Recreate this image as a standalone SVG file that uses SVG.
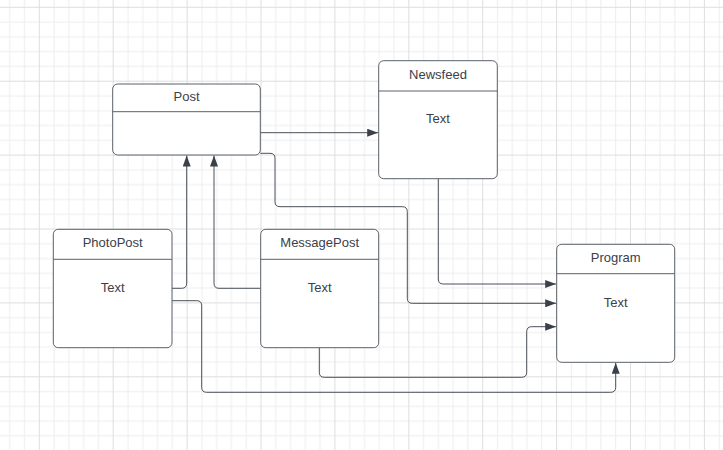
<svg xmlns="http://www.w3.org/2000/svg" width="723" height="450" viewBox="0 0 723 450">
<defs>
<pattern id="grid" patternUnits="userSpaceOnUse" x="38.8" y="6.8" width="73.9" height="73.9">
<rect x="14.78" y="0" width="1" height="73.9" fill="#ededed"/>
<rect x="29.56" y="0" width="1" height="73.9" fill="#ededed"/>
<rect x="44.34" y="0" width="1" height="73.9" fill="#ededed"/>
<rect x="59.12" y="0" width="1" height="73.9" fill="#ededed"/>
<rect x="0" y="14.78" width="73.9" height="1" fill="#ededed"/>
<rect x="0" y="29.56" width="73.9" height="1" fill="#ededed"/>
<rect x="0" y="44.34" width="73.9" height="1" fill="#ededed"/>
<rect x="0" y="59.12" width="73.9" height="1" fill="#ededed"/>
<rect x="0" y="0" width="1" height="73.9" fill="#dedede"/>
<rect x="0" y="0" width="73.9" height="1" fill="#dedede"/>
</pattern>
<marker id="arr" viewBox="0 0 11 8" refX="11" refY="4" markerWidth="11" markerHeight="8" markerUnits="userSpaceOnUse" orient="auto">
<path d="M0,0 L11,4 L0,8 Z" fill="#3a414a"/>
</marker>
</defs>
<style>
.box{fill:#ffffff;stroke:#5a6068;stroke-width:1}
.div{fill:none;stroke:#5a6068;stroke-width:1}
.t{font-family:"Liberation Sans",Arial,sans-serif;font-size:13px;fill:#3a414a;text-anchor:middle}
.c{fill:none;stroke:#4a5058;stroke-width:1;marker-end:url(#arr)}
</style>
<rect x="0" y="0" width="723" height="450" fill="#ffffff"/>
<rect x="0" y="0" width="723" height="450" fill="url(#grid)"/>

<g id="connectors">
<path class="c" d="M260.3,132.7 H378.2"/>
<path class="c" d="M260.3,153.3 H270 Q275,153.3 275,158.3 V201.7 Q275,206.7 280,206.7 H402.3 Q407.3,206.7 407.3,211.7 V298.3 Q407.3,303.3 412.3,303.3 H556.2"/>
<path class="c" d="M438.3,178.7 V279 Q438.3,284 443.3,284 H556.2"/>
<path class="c" d="M172,288.3 H181.7 Q186.7,288.3 186.7,283.3 V155.5"/>
<path class="c" d="M260.7,288.3 H219 Q214,288.3 214,283.3 V155.5"/>
<path class="c" d="M172,300.7 H196.7 Q201.7,300.7 201.7,305.7 V387.3 Q201.7,392.3 206.7,392.3 H610.7 Q615.7,392.3 615.7,387.3 V362.8"/>
<path class="c" d="M319.3,347.7 V372.3 Q319.3,377.3 324.3,377.3 H521.7 Q526.7,377.3 526.7,372.3 V331.7 Q526.7,326.7 531.7,326.7 H556.2"/>
</g>

<g id="post">
<rect class="box" x="112.7" y="84" width="147.6" height="71" rx="5"/>
<path class="div" d="M112.7,111.7 H260.3"/>
<text class="t" x="186.5" y="101.3">Post</text>
</g>

<g id="newsfeed">
<rect class="box" x="378.7" y="60.7" width="118.6" height="118" rx="5"/>
<path class="div" d="M378.7,91 H497.3"/>
<text class="t" x="438" y="79">Newsfeed</text>
<text class="t" x="438" y="123">Text</text>
</g>

<g id="photopost">
<rect class="box" x="53.3" y="229.3" width="118.7" height="118.4" rx="5"/>
<path class="div" d="M53.3,259.3 H172"/>
<text class="t" x="112.7" y="247">PhotoPost</text>
<text class="t" x="112.7" y="292">Text</text>
</g>

<g id="messagepost">
<rect class="box" x="260.7" y="229.3" width="118" height="118.4" rx="5"/>
<path class="div" d="M260.7,259.3 H378.7"/>
<text class="t" x="319.7" y="247">MessagePost</text>
<text class="t" x="319.7" y="292">Text</text>
</g>

<g id="program">
<rect class="box" x="556.7" y="244.3" width="118" height="118" rx="5"/>
<path class="div" d="M556.7,273.7 H674.7"/>
<text class="t" x="615.7" y="262">Program</text>
<text class="t" x="615.7" y="307">Text</text>
</g>
</svg>
